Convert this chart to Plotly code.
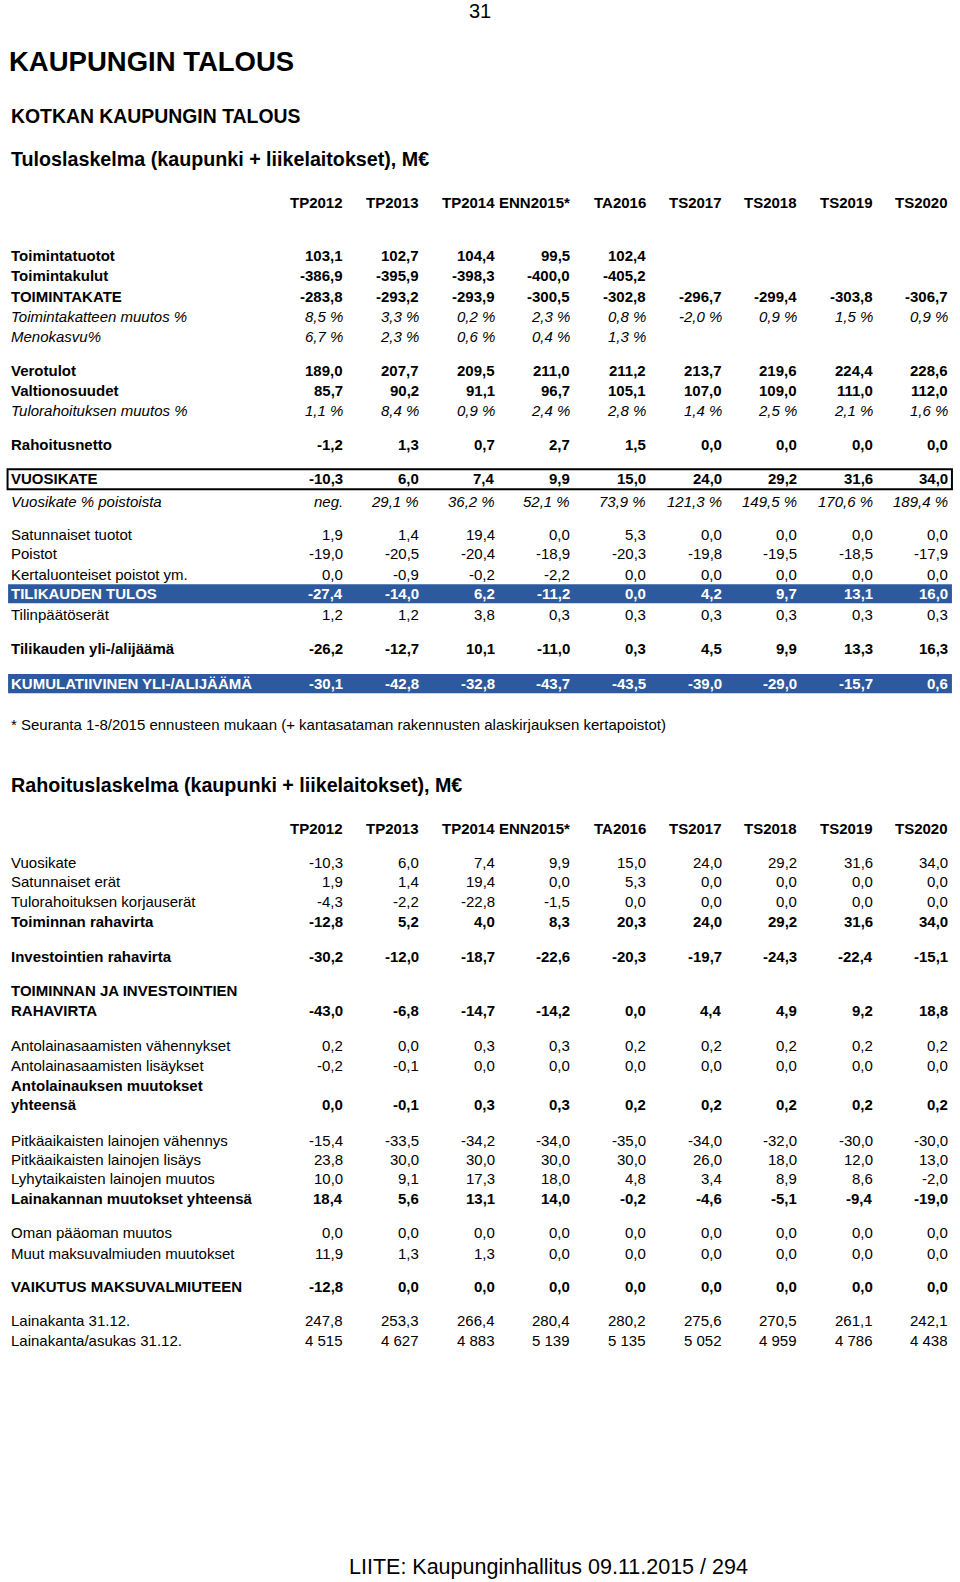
import plotly.graph_objects as go

# Column headings
cols = ["TP2012", "TP2013", "TP2014", "ENN2015*", "TA2016", "TS2017", "TS2018", "TS2019", "TS2020"]

# Tuloslaskelma (kaupunki + liikelaitokset), M€
toimintatuotot = [103.1, 102.7, 104.4, 99.5, 102.4, None, None, None, None]
toimintakulut = [-386.9, -395.9, -398.3, -400.0, -405.2, None, None, None, None]
toimintakate = [-283.8, -293.2, -293.9, -300.5, -302.8, -296.7, -299.4, -303.8, -306.7]
toimintakate_muutos = [8.5, 3.3, 0.2, 2.3, 0.8, -2.0, 0.9, 1.5, 0.9]
menokasvu = [6.7, 2.3, 0.6, 0.4, 1.3, None, None, None, None]
verotulot = [189.0, 207.7, 209.5, 211.0, 211.2, 213.7, 219.6, 224.4, 228.6]
valtionosuudet = [85.7, 90.2, 91.1, 96.7, 105.1, 107.0, 109.0, 111.0, 112.0]
tulorahoitus_muutos = [1.1, 8.4, 0.9, 2.4, 2.8, 1.4, 2.5, 2.1, 1.6]
rahoitusnetto = [-1.2, 1.3, 0.7, 2.7, 1.5, 0.0, 0.0, 0.0, 0.0]
vuosikate = [-10.3, 6.0, 7.4, 9.9, 15.0, 24.0, 29.2, 31.6, 34.0]
vuosikate_poistoista = ["neg.", 29.1, 36.2, 52.1, 73.9, 121.3, 149.5, 170.6, 189.4]
satunnaiset_tuotot = [1.9, 1.4, 19.4, 0.0, 5.3, 0.0, 0.0, 0.0, 0.0]
poistot = [-19.0, -20.5, -20.4, -18.9, -20.3, -19.8, -19.5, -18.5, -17.9]
kertaluonteiset = [0.0, -0.9, -0.2, -2.2, 0.0, 0.0, 0.0, 0.0, 0.0]
tilikauden_tulos = [-27.4, -14.0, 6.2, -11.2, 0.0, 4.2, 9.7, 13.1, 16.0]
tilinpaatoserat = [1.2, 1.2, 3.8, 0.3, 0.3, 0.3, 0.3, 0.3, 0.3]
yli_alijaama = [-26.2, -12.7, 10.1, -11.0, 0.3, 4.5, 9.9, 13.3, 16.3]
kumulatiivinen = [-30.1, -42.8, -32.8, -43.7, -43.5, -39.0, -29.0, -15.7, 0.6]

# Rahoituslaskelma (kaupunki + liikelaitokset), M€
satunnaiset_erat = [1.9, 1.4, 19.4, 0.0, 5.3, 0.0, 0.0, 0.0, 0.0]
korjauserat = [-4.3, -2.2, -22.8, -1.5, 0.0, 0.0, 0.0, 0.0, 0.0]
toiminnan_rahavirta = [-12.8, 5.2, 4.0, 8.3, 20.3, 24.0, 29.2, 31.6, 34.0]
investointien_rahavirta = [-30.2, -12.0, -18.7, -22.6, -20.3, -19.7, -24.3, -22.4, -15.1]
toim_inv_rahavirta = [-43.0, -6.8, -14.7, -14.2, 0.0, 4.4, 4.9, 9.2, 18.8]
antolaina_vah = [0.2, 0.0, 0.3, 0.3, 0.2, 0.2, 0.2, 0.2, 0.2]
antolaina_lis = [-0.2, -0.1, 0.0, 0.0, 0.0, 0.0, 0.0, 0.0, 0.0]
antolainaus_yht = [0.0, -0.1, 0.3, 0.3, 0.2, 0.2, 0.2, 0.2, 0.2]
pitka_vah = [-15.4, -33.5, -34.2, -34.0, -35.0, -34.0, -32.0, -30.0, -30.0]
pitka_lis = [23.8, 30.0, 30.0, 30.0, 30.0, 26.0, 18.0, 12.0, 13.0]
lyhyt_muutos = [10.0, 9.1, 17.3, 18.0, 4.8, 3.4, 8.9, 8.6, -2.0]
lainakanta_muutos = [18.4, 5.6, 13.1, 14.0, -0.2, -4.6, -5.1, -9.4, -19.0]
oman_paaoman = [0.0, 0.0, 0.0, 0.0, 0.0, 0.0, 0.0, 0.0, 0.0]
muut_maksuvalmius = [11.9, 1.3, 1.3, 0.0, 0.0, 0.0, 0.0, 0.0, 0.0]
vaikutus = [-12.8, 0.0, 0.0, 0.0, 0.0, 0.0, 0.0, 0.0, 0.0]
lainakanta = [247.8, 253.3, 266.4, 280.4, 280.2, 275.6, 270.5, 261.1, 242.1]
lainakanta_asukas = [4515, 4627, 4883, 5139, 5135, 5052, 4959, 4786, 4438]

FONT = "Liberation Sans, Arial, Helvetica, sans-serif"
BLUE = "#2D5A9E"
SIZE = 15
col_x = [341, 416, 491, 566, 641, 716, 791, 866, 941]


def fmt_num(v):
    return f"{v:.1f}".replace(".", ",")


def fmt_pct(v):
    return fmt_num(v) + " %"


def fmt_int(v):
    return f"{v:,}".replace(",", " ")


# (label, values, y, style, formatter)
rows1 = [
    ("Toimintatuotot", toimintatuotot, 253, "b", fmt_num),
    ("Toimintakulut", toimintakulut, 273, "b", fmt_num),
    ("TOIMINTAKATE", toimintakate, 294, "b", fmt_num),
    ("Toimintakatteen muutos %", toimintakate_muutos, 314, "i", fmt_pct),
    ("Menokasvu%", menokasvu, 334, "i", fmt_pct),
    ("Verotulot", verotulot, 367, "b", fmt_num),
    ("Valtionosuudet", valtionosuudet, 387, "b", fmt_num),
    ("Tulorahoituksen muutos %", tulorahoitus_muutos, 407, "i", fmt_pct),
    ("Rahoitusnetto", rahoitusnetto, 441, "b", fmt_num),
    ("VUOSIKATE", vuosikate, 474, "b", fmt_num),
    ("Vuosikate % poistoista", vuosikate_poistoista, 497, "i", fmt_pct),
    ("Satunnaiset tuotot", satunnaiset_tuotot, 530, "r", fmt_num),
    ("Poistot", poistot, 549, "r", fmt_num),
    ("Kertaluonteiset poistot ym.", kertaluonteiset, 569, "r", fmt_num),
    ("TILIKAUDEN TULOS", tilikauden_tulos, 588, "w", fmt_num),
    ("Tilinpäätöserät", tilinpaatoserat, 609, "r", fmt_num),
    ("Tilikauden yli-/alijäämä", yli_alijaama, 643, "b", fmt_num),
    ("KUMULATIIVINEN YLI-/ALIJÄÄMÄ", kumulatiivinen, 677, "w", fmt_num),
]

rows2 = [
    ("Vuosikate", vuosikate, 855, "r", fmt_num),
    ("Satunnaiset erät", satunnaiset_erat, 874, "r", fmt_num),
    ("Tulorahoituksen korjauserät", korjauserat, 894, "r", fmt_num),
    ("Toiminnan rahavirta", toiminnan_rahavirta, 913, "b", fmt_num),
    ("Investointien rahavirta", investointien_rahavirta, 948, "b", fmt_num),
    ("RAHAVIRTA", toim_inv_rahavirta, 1002, "b", fmt_num),
    ("Antolainasaamisten vähennykset", antolaina_vah, 1036, "r", fmt_num),
    ("Antolainasaamisten lisäykset", antolaina_lis, 1056, "r", fmt_num),
    ("yhteensä", antolainaus_yht, 1095, "b", fmt_num),
    ("Pitkäaikaisten lainojen vähennys", pitka_vah, 1130, "r", fmt_num),
    ("Pitkäaikaisten lainojen lisäys", pitka_lis, 1149, "r", fmt_num),
    ("Lyhytaikaisten lainojen muutos", lyhyt_muutos, 1168, "r", fmt_num),
    ("Lainakannan muutokset yhteensä", lainakanta_muutos, 1188, "b", fmt_num),
    ("Oman pääoman muutos", oman_paaoman, 1222, "r", fmt_num),
    ("Muut maksuvalmiuden muutokset", muut_maksuvalmius, 1242, "r", fmt_num),
    ("VAIKUTUS MAKSUVALMIUTEEN", vaikutus, 1275, "b", fmt_num),
    ("Lainakanta 31.12.", lainakanta, 1309, "r", fmt_num),
    ("Lainakanta/asukas 31.12.", lainakanta_asukas, 1329, "r", fmt_int),
]

annotations = []


def text(x, y, s, size=SIZE, bold=False, italic=False, color="black", anchor="left"):
    if bold:
        s = "<b>" + s + "</b>"
    if italic:
        s = "<i>" + s + "</i>"
    annotations.append(dict(
        x=x, y=y, xref="x", yref="y", text=s, showarrow=False,
        xanchor=anchor, yanchor="middle",
        font=dict(family=FONT, size=size, color=color),
    ))


def add_rows(rows):
    for label, vals, y, style, f in rows:
        bold = style in ("b", "w")
        italic = style == "i"
        color = "white" if style == "w" else "black"
        text(9, y, label, bold=bold, italic=italic, color=color)
        for cx, v in zip(col_x, vals):
            if v is None:
                continue
            s = v if isinstance(v, str) else f(v)
            text(cx + 1.5, y, s, bold=bold, italic=italic, color=color, anchor="right")


def add_header(y):
    for cx, c in zip(col_x, cols):
        text(cx + 1.5, y, c, bold=True, anchor="right")


shapes = [
    dict(type="rect", xref="x", yref="y", x0=8, x1=944, y0=579, y1=598,
         fillcolor=BLUE, line=dict(width=0), layer="below"),
    dict(type="rect", xref="x", yref="y", x0=8, x1=944, y0=668, y1=687,
         fillcolor=BLUE, line=dict(width=0), layer="below"),
    dict(type="rect", xref="x", yref="y", x0=7.5, x1=944, y0=465, y1=485,
         fillcolor="rgba(0,0,0,0)", line=dict(width=2, color="black"), layer="below"),
]

text(476, 11, "31", size=20, anchor="center")
text(7, 61, "<b>KAUPUNGIN TALOUS</b>", size=27.5)
text(9, 115, "<b>KOTKAN KAUPUNGIN TALOUS</b>", size=19.4)
text(9, 158, "<b>Tuloslaskelma (kaupunki + liikelaitokset), M€</b>", size=19.7)
add_header(201)
add_rows(rows1)
text(9, 718, "* Seuranta 1-8/2015 ennusteen mukaan (+ kantasataman rakennusten alaskirjauksen kertapoistot)")

text(9, 778, "<b>Rahoituslaskelma (kaupunki + liikelaitokset), M€</b>", size=19.7)
add_header(821)
text(9, 982, "<b>TOIMINNAN JA INVESTOINTIEN</b>")
text(9, 1076, "<b>Antolainauksen muutokset</b>")
add_rows(rows2)

text(544, 1553, "LIITE: Kaupunginhallitus 09.11.2015 / 294", size=21.5, anchor="center")

fig = go.Figure()
fig.update_layout(
    width=960, height=1582,
    margin=dict(l=0, r=0, t=0, b=0),
    paper_bgcolor="white", plot_bgcolor="white",
    xaxis=dict(range=[0, 952], visible=False, fixedrange=True),
    yaxis=dict(range=[1568, 0], visible=False, fixedrange=True),
    annotations=annotations,
    shapes=shapes,
    showlegend=False,
)
fig.write_html(
    "out.html",
    config={"displayModeBar": False},
    post_script="document.body.style.margin='0';document.body.style.overflow='hidden';",
)
